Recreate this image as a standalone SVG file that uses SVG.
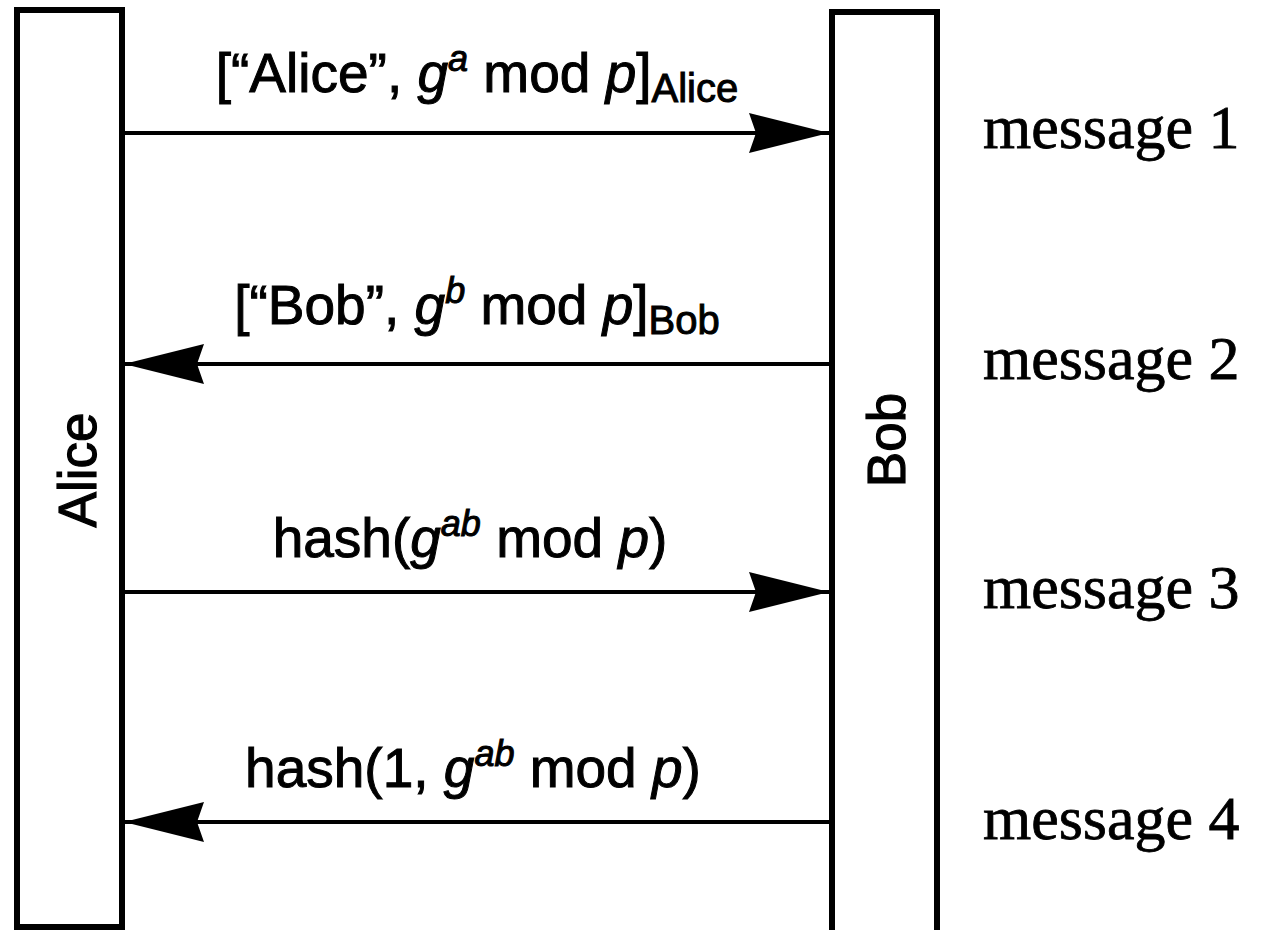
<svg xmlns="http://www.w3.org/2000/svg" width="1278" height="930" viewBox="0 0 1278 930">
  <defs>
    <style>
      .box { fill: #fff; stroke: #000; stroke-width: 6; }
      .wire { stroke: #000; stroke-width: 4; fill: none; }
      .lbl { font-family: "Liberation Sans", Arial, sans-serif; font-size: 55px; fill: #000; stroke: #000; stroke-width: 1; }
      .who { font-family: "Liberation Sans", Arial, sans-serif; font-size: 53px; fill: #000; stroke: #000; stroke-width: 1.2; }
      .msg { font-family: "Liberation Serif", "Times New Roman", serif; font-size: 62px; fill: #000; stroke: #000; stroke-width: 0.8; }
      .it { font-style: italic; }
    </style>
    <marker id="head" viewBox="0 0 80 40" refX="80" refY="20" markerWidth="80" markerHeight="40" markerUnits="userSpaceOnUse" orient="auto">
      <path d="M0,0 L80,20 L0,40 L7,20 Z" fill="#000"/>
    </marker>
  </defs>

  <rect width="1278" height="930" fill="#fff"/>

  <!-- participants -->
  <g id="alice">
    <rect class="box" x="17" y="10" width="105" height="917"/>
    <text class="who" transform="translate(96,470) rotate(-90)" text-anchor="middle">Alice</text>
  </g>
  <g id="bob">
    <rect class="box" x="832" y="12" width="105" height="940"/>
    <text class="who" transform="translate(905,440) rotate(-90)" text-anchor="middle">Bob</text>
  </g>

  <!-- messages -->
  <g id="connectors">
    <line class="wire" x1="123" y1="133" x2="829" y2="133" marker-end="url(#head)"/>
    <line class="wire" x1="830" y1="364" x2="124" y2="364" marker-end="url(#head)"/>
    <line class="wire" x1="123" y1="592" x2="829" y2="592" marker-end="url(#head)"/>
    <line class="wire" x1="830" y1="822" x2="124" y2="822" marker-end="url(#head)"/>
  </g>

  <g id="labels">
    <text class="lbl" x="477" y="92" text-anchor="middle">[“Alice”, <tspan class="it">g</tspan><tspan class="it" font-size="36" dy="-21">a</tspan><tspan dy="21"> mod </tspan><tspan class="it">p</tspan>]<tspan font-size="40" dy="10">Alice</tspan></text>
    <text class="lbl" x="477" y="324" text-anchor="middle">[“Bob”, <tspan class="it">g</tspan><tspan class="it" font-size="36" dy="-21">b</tspan><tspan dy="21"> mod </tspan><tspan class="it">p</tspan>]<tspan font-size="40" dy="10">Bob</tspan></text>
    <text class="lbl" x="470" y="557" text-anchor="middle">hash(<tspan class="it">g</tspan><tspan class="it" font-size="36" dy="-21">ab</tspan><tspan dy="21"> mod </tspan><tspan class="it">p</tspan>)</text>
    <text class="lbl" x="473" y="787" text-anchor="middle">hash(1, <tspan class="it">g</tspan><tspan class="it" font-size="36" dy="-21">ab</tspan><tspan dy="21"> mod </tspan><tspan class="it">p</tspan>)</text>
  </g>

  <g id="message-names">
    <text class="msg" x="983" y="148">message 1</text>
    <text class="msg" x="983" y="379">message 2</text>
    <text class="msg" x="983" y="608">message 3</text>
    <text class="msg" x="983" y="839">message 4</text>
  </g>
</svg>
